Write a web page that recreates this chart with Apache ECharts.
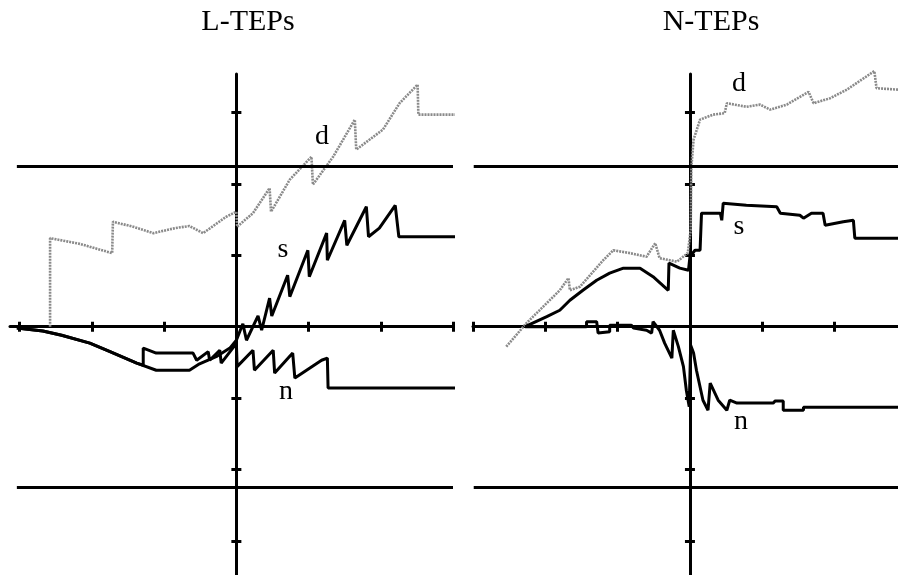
<!DOCTYPE html>
<html>
<head>
<meta charset="utf-8">
<script src="https://cdn.jsdelivr.net/npm/echarts@6/dist/echarts.min.js"></script>
<style>html,body{margin:0;padding:0;background:#fff}#c{width:898px;height:575px}</style>
</head>
<body>
<div id="c"></div>
<script>
// ---- data (axis units: one tick = 1) ----
const panelTitles = ['L-TEPs', 'N-TEPs'];
const seriesNames = ['d', 's', 'n'];
const xTicksLeft = [-3, -2, -1, 0, 1, 2, 3];
const xTicksRight = [-3, -2, -1, 0, 1, 2];
const yTicks = [-3, -2, -1, 0, 1, 2, 3];
const refLevels = [2.25, -2.25];

const leftD = [[-2.58,0],[-2.58,1.24],[-2.17,1.16],[-1.72,1.03],[-1.71,1.47],[-1.43,1.40],[-1.15,1.31],[-0.85,1.38],[-0.65,1.41],[-0.46,1.31],[-0.14,1.54],[0,1.61],[0.01,1.40],[0.23,1.59],[0.46,1.94],[0.48,1.61],[0.74,2.06],[1.04,2.38],[1.06,1.99],[1.34,2.38],[1.64,2.90],[1.66,2.48],[2.03,2.76],[2.26,3.13],[2.51,3.39],[2.52,2.97],[3.05,2.97]];
const leftS = [[-3.04,-0.02],[-2.68,-0.06],[-2.42,-0.12],[-2.03,-0.23],[-1.75,-0.35],[-1.38,-0.51],[-1.11,-0.61],[-0.65,-0.61],[-0.51,-0.52],[-0.28,-0.42],[-0.09,-0.30],[0,-0.19],[0.09,0.04],[0.14,-0.19],[0.30,0.15],[0.35,-0.05],[0.46,0.40],[0.49,0.15],[0.71,0.72],[0.74,0.42],[0.99,1.07],[1.01,0.70],[1.25,1.31],[1.26,0.93],[1.50,1.49],[1.53,1.14],[1.80,1.68],[1.83,1.26],[1.98,1.38],[2.20,1.70],[2.25,1.26],[3.06,1.26]];
const leftN = [[-3.04,-0.02],[-2.68,-0.06],[-2.42,-0.12],[-2.03,-0.23],[-1.75,-0.35],[-1.38,-0.51],[-1.29,-0.54],[-1.29,-0.30],[-1.11,-0.37],[-0.60,-0.37],[-0.55,-0.47],[-0.39,-0.35],[-0.37,-0.47],[-0.23,-0.33],[-0.21,-0.51],[-0.05,-0.30],[0,-0.23],[0.01,-0.56],[0.23,-0.33],[0.25,-0.61],[0.51,-0.33],[0.53,-0.65],[0.78,-0.37],[0.81,-0.72],[1.18,-0.47],[1.26,-0.44],[1.27,-0.86],[3.06,-0.86]];

const rightD = [[-2.54,-0.28],[-2.26,0.05],[-1.80,0.51],[-1.68,0.68],[-1.66,0.51],[-1.52,0.56],[-1.20,0.93],[-1.06,1.07],[-0.83,1.03],[-0.60,0.98],[-0.48,1.17],[-0.42,0.96],[-0.18,0.91],[-0.03,1.03],[0.01,1.35],[0.02,2.24],[0.05,2.62],[0.14,2.90],[0.32,2.97],[0.48,2.99],[0.51,3.13],[0.78,3.08],[0.97,3.11],[1.11,3.04],[1.34,3.11],[1.64,3.29],[1.71,3.13],[1.94,3.20],[2.17,3.32],[2.55,3.58],[2.58,3.34],[2.88,3.32]];
const rightS = [[-2.28,0],[-1.98,0.14],[-1.80,0.23],[-1.66,0.37],[-1.48,0.51],[-1.29,0.65],[-1.11,0.75],[-0.92,0.82],[-0.69,0.82],[-0.51,0.70],[-0.30,0.51],[-0.29,0.89],[-0.14,0.82],[-0.02,0.79],[0,0.98],[0.07,1.07],[0.14,1.07],[0.16,1.59],[0.42,1.59],[0.44,1.49],[0.46,1.73],[0.78,1.70],[1.20,1.68],[1.25,1.59],[1.52,1.56],[1.57,1.52],[1.68,1.59],[1.84,1.59],[1.87,1.42],[2.12,1.47],[2.26,1.49],[2.28,1.24],[2.88,1.24]];
const rightN = [[-2.28,0],[-1.43,0],[-1.43,0.07],[-1.29,0.07],[-1.27,-0.09],[-1.11,-0.07],[-1.11,0.02],[-0.81,0.02],[-0.78,-0.02],[-0.60,-0.05],[-0.53,-0.09],[-0.51,0.07],[-0.42,-0.05],[-0.35,-0.23],[-0.25,-0.44],[-0.23,-0.05],[-0.16,-0.28],[-0.09,-0.56],[-0.05,-0.89],[-0.01,-1.12],[0.01,-0.26],[0.05,-0.37],[0.09,-0.61],[0.18,-1.03],[0.25,-1.17],[0.28,-0.79],[0.39,-1.03],[0.51,-1.17],[0.55,-1.03],[0.65,-1.07],[1.15,-1.07],[1.18,-1.04],[1.29,-1.04],[1.29,-1.17],[1.57,-1.17],[1.57,-1.13],[2.88,-1.13]];

// ---- layout ----
const grids = [
  {left: 10, top: 74, width: 443, height: 501},
  {left: 473, top: 74, width: 425, height: 501}
];
const xRanges = [[-3.135, 3], [-3, 2.877]];
const yRange = [-3.478, 3.539];
const refSpan = [[-3.04, 3], [-2.99, 2.877]];

const AX = '#000';
function xAx(g, pos, ticks, showLine) {
  return {type: 'value', gridIndex: g, position: pos, min: xRanges[g][0], max: xRanges[g][1],
    axisLine: {show: showLine, onZero: true, lineStyle: {color: AX, width: 3}},
    axisTick: {show: true, inside: false, length: 5, customValues: ticks, lineStyle: {color: AX, width: 3}},
    axisLabel: {show: false}, splitLine: {show: false}};
}
function yAx(g, pos, showLine) {
  return {type: 'value', gridIndex: g, position: pos, min: yRange[0], max: yRange[1],
    axisLine: {show: showLine, onZero: true, lineStyle: {color: AX, width: 3}},
    axisTick: {show: true, inside: false, length: 5, customValues: yTicks, lineStyle: {color: AX, width: 3}},
    axisLabel: {show: false}, splitLine: {show: false}};
}

function refLines(g) {
  return {silent: true, symbol: 'none', label: {show: false},
    lineStyle: {color: '#000', width: 3, type: 'solid'},
    data: refLevels.map(v => [{coord: [refSpan[g][0], v]}, {coord: [refSpan[g][1], v]}])};
}
function mkSeries(name, data, g, gray, withRef) {
  const s = {type: 'line', name: name, data: data, xAxisIndex: g * 2, yAxisIndex: g * 2,
    showSymbol: false, symbol: 'none', clip: false, animation: false,
    lineStyle: gray ? {color: '#8a8a8a', width: 2.6, type: [2, 1]} : {color: '#000', width: 3},
    z: gray ? 3 : 4};
  if (withRef) s.markLine = refLines(g);
  return s;
}

const font = '"Liberation Serif","DejaVu Serif",serif';
const labels = [
  {t: panelTitles[0], x: 248, y: 22, s: 30},
  {t: panelTitles[1], x: 711, y: 22, s: 30},
  {t: seriesNames[0], x: 322, y: 137, s: 28},
  {t: seriesNames[1], x: 283, y: 250, s: 28},
  {t: seriesNames[2], x: 286, y: 392, s: 28},
  {t: seriesNames[0], x: 739, y: 84, s: 28},
  {t: seriesNames[1], x: 739, y: 227, s: 28},
  {t: seriesNames[2], x: 741, y: 422, s: 28}
];

const chart = echarts.init(document.getElementById('c'), null, {renderer: 'canvas'});
chart.setOption({
  animation: false,
  backgroundColor: '#fff',
  grid: grids,
  xAxis: [xAx(0, 'bottom', xTicksLeft, true), xAx(0, 'top', xTicksLeft, false),
          xAx(1, 'bottom', xTicksRight, true), xAx(1, 'top', xTicksRight, false)],
  yAxis: [yAx(0, 'left', true), yAx(0, 'right', false),
          yAx(1, 'left', true), yAx(1, 'right', false)],
  series: [
    mkSeries('d', leftD, 0, true, true),
    mkSeries('s', leftS, 0, false, false),
    mkSeries('n', leftN, 0, false, false),
    mkSeries('d', rightD, 1, true, true),
    mkSeries('s', rightS, 1, false, false),
    mkSeries('n', rightN, 1, false, false)
  ],
  graphic: labels.map(l => ({type: 'text', x: l.x, y: l.y, z: 10,
    style: {text: l.t, font: l.s + 'px ' + font, fill: '#000', textAlign: 'center', textVerticalAlign: 'middle'}}))
});
</script>
</body>
</html>
